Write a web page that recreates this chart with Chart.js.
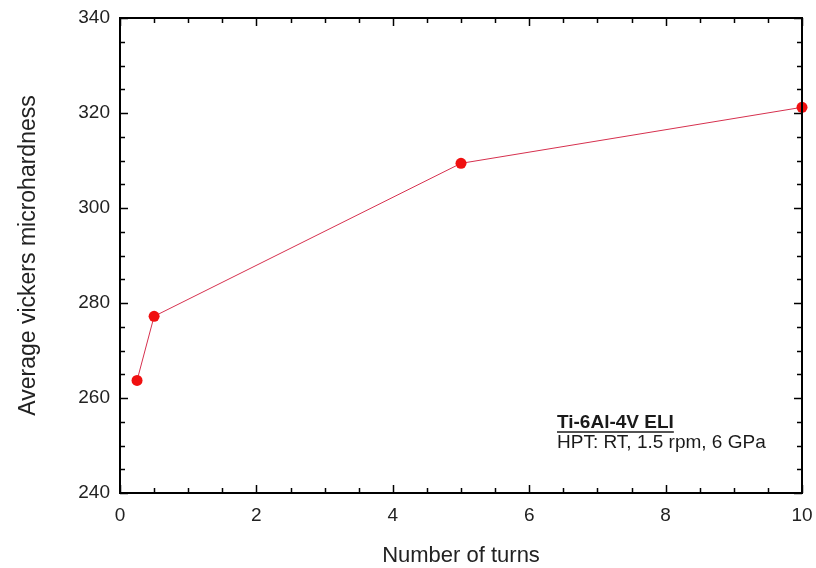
<!DOCTYPE html>
<html>
<head>
<meta charset="utf-8">
<script src="https://cdn.jsdelivr.net/npm/chart.js@4.4.1/dist/chart.umd.min.js"></script>
<style>
  html, body { margin: 0; padding: 0; background: #ffffff; }
  #wrap { width: 816px; height: 568px; position: relative; }
</style>
</head>
<body>
<div id="wrap"><canvas id="c" width="816" height="568"></canvas></div>
<script>
// Hardness vs. number of HPT turns
const turns = [0.25, 0.5, 5, 10];
const hardness = [263.7, 277.2, 309.4, 321.2];
const xTicks = [0, 2, 4, 6, 8, 10];
const yTicks = [240, 260, 280, 300, 320, 340];
const annotationTitle = 'Ti-6Al-4V ELI';
const annotationText = 'HPT: RT, 1.5 rpm, 6 GPa';

const FONT = "'Liberation Sans', Arial, sans-serif";

// Inward major/minor ticks on all four sides plus the annotation block
const framePlugin = {
  id: 'frameTicks',
  afterDraw(chart) {
    const ctx = chart.ctx;
    const a = chart.chartArea;
    const xs = chart.scales.x, ys = chart.scales.y;
    ctx.save();
    ctx.strokeStyle = '#000';
    ctx.lineWidth = 1.5;
    const tick = (x1, y1, x2, y2) => { ctx.beginPath(); ctx.moveTo(x1, y1); ctx.lineTo(x2, y2); ctx.stroke(); };
    for (let v = 0; v <= 10.001; v += 0.5) {
      const p = Math.round(xs.getPixelForValue(v)) + 0.5;
      const major = Math.abs(v / 2 - Math.round(v / 2)) < 1e-6;
      const len = major ? 8 : 5;
      tick(p, a.bottom, p, a.bottom - len);
      tick(p, a.top, p, a.top + len);
    }
    for (let v = 240; v <= 340; v += 5) {
      const p = Math.round(ys.getPixelForValue(v)) + 0.5;
      const major = v % 20 === 0;
      const len = major ? 8 : 5;
      tick(a.left, p, a.left + len, p);
      tick(a.right, p, a.right - len, p);
    }
    ctx.lineWidth = 2;
    ctx.strokeRect(a.left, a.top, a.right - a.left, a.bottom - a.top);

    // annotation
    ctx.fillStyle = '#1a1a1a';
    ctx.textBaseline = 'alphabetic';
    ctx.textAlign = 'left';
    ctx.font = 'bold 19px ' + FONT;
    const tx = 557, ty = 428;
    ctx.fillText(annotationTitle, tx, ty);
    const w = ctx.measureText(annotationTitle).width;
    ctx.lineWidth = 1.5;
    ctx.strokeStyle = '#1a1a1a';
    ctx.beginPath(); ctx.moveTo(tx, ty + 4); ctx.lineTo(tx + w, ty + 4); ctx.stroke();
    ctx.font = '19px ' + FONT;
    ctx.fillText(annotationText, tx, ty + 20);
    ctx.restore();
  }
};

new Chart(document.getElementById('c'), {
  type: 'line',
  data: {
    datasets: [{
      data: turns.map((t, i) => ({ x: t, y: hardness[i] })),
      borderColor: '#d6304e',
      borderWidth: 1,
      pointBackgroundColor: '#f01010',
      pointBorderColor: '#f01010',
      pointRadius: 5.5,
      pointBorderWidth: 0,
      tension: 0,
      clip: false
    }]
  },
  options: {
    responsive: false,
    animation: false,
    devicePixelRatio: 1,
    layout: { padding: { top: 18, right: 14, left: 0, bottom: 0 } },
    plugins: { legend: { display: false }, tooltip: { enabled: false } },
    scales: {
      x: {
        type: 'linear',
        min: 0, max: 10,
        afterBuildTicks(s) { s.ticks = xTicks.map(v => ({ value: v })); },
        afterFit(s) { s.height = 75; s.paddingLeft = 0; s.paddingRight = 0; },
        grid: { display: false, drawTicks: false },
        border: { display: false },
        ticks: { color: '#222', font: { family: FONT, size: 19 }, padding: 11, maxRotation: 0 },
        title: { display: true, text: 'Number of turns', color: '#222', font: { family: FONT, size: 22 }, padding: { top: 0, bottom: -1 } }
      },
      y: {
        type: 'linear',
        min: 240, max: 340,
        afterBuildTicks(s) { s.ticks = yTicks.map(v => ({ value: v })); },
        afterFit(s) { s.width = 120; s.paddingTop = 0; s.paddingBottom = 0; },
        grid: { display: false, drawTicks: false },
        border: { display: false },
        ticks: { color: '#222', font: { family: FONT, size: 19 }, padding: 10 },
        title: { display: true, text: 'Average vickers microhardness', color: '#222', font: { family: FONT, size: 23 }, padding: { top: 15, bottom: 0 } }
      }
    }
  },
  plugins: [framePlugin]
});
</script>
</body>
</html>
